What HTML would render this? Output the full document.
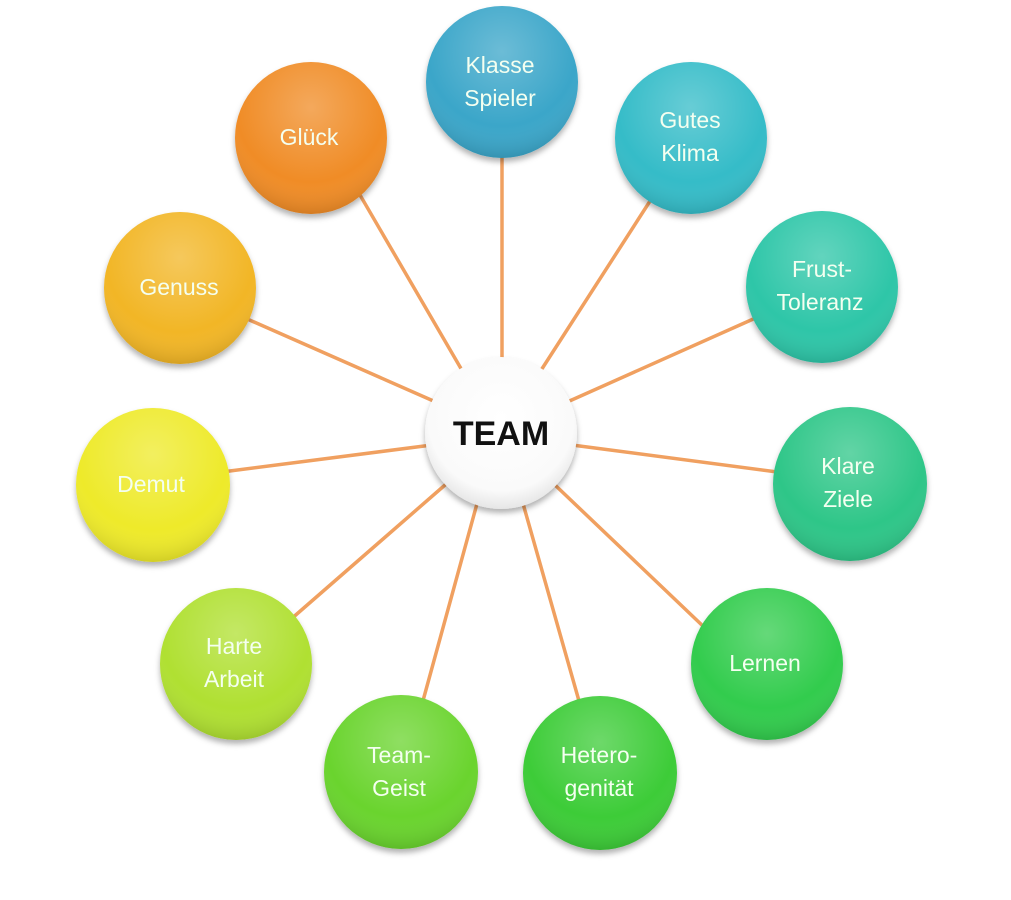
<!DOCTYPE html>
<html><head><meta charset="utf-8"><style>
html,body{margin:0;padding:0;background:#fff;}
svg{display:block;}
text{font-family:"Liberation Sans",sans-serif;}
</style></head><body>
<svg width="1011" height="900" viewBox="0 0 1011 900" xmlns="http://www.w3.org/2000/svg">
<defs>
<radialGradient id="gl" cx="50%" cy="30%" r="70%">
<stop offset="0" stop-color="#fff" stop-opacity="0.25"/>
<stop offset="0.7" stop-color="#fff" stop-opacity="0"/>
<stop offset="1" stop-color="#000" stop-opacity="0.12"/>
</radialGradient>
<radialGradient id="wh" cx="50%" cy="40%" r="60%">
<stop offset="0" stop-color="#fff"/>
<stop offset="0.8" stop-color="#fafafa"/>
<stop offset="1" stop-color="#e6e6e6"/>
</radialGradient>
<filter id="sh" x="-20%" y="-20%" width="140%" height="150%">
<feDropShadow dx="0" dy="4" stdDeviation="3" flood-color="#000" flood-opacity="0.3"/>
</filter>
</defs>
<g stroke="#f0a060" stroke-width="3.5" stroke-linecap="round">
<line x1="502" y1="150" x2="502" y2="365"/>
<line x1="652" y1="198" x2="538" y2="375"/>
<line x1="760" y1="316" x2="565" y2="403"/>
<line x1="785" y1="473" x2="572" y2="445"/>
<line x1="705" y1="628" x2="555" y2="485"/>
<line x1="581" y1="708" x2="522" y2="500"/>
<line x1="421" y1="708" x2="478" y2="500"/>
<line x1="290" y1="620" x2="445" y2="485"/>
<line x1="222" y1="472" x2="432" y2="445"/>
<line x1="245" y1="318" x2="438" y2="403"/>
<line x1="360" y1="195" x2="463" y2="372"/>
</g>
<g filter="url(#sh)">
<circle cx="501" cy="433" r="76" fill="url(#wh)"/>
<circle cx="502" cy="82" r="76" fill="#3aa6c9"/>
<circle cx="691" cy="138" r="76" fill="#35bcc8"/>
<circle cx="822" cy="287" r="76" fill="#2ec6a8"/>
<circle cx="850" cy="484" r="77" fill="#2ec688"/>
<circle cx="767" cy="664" r="76" fill="#30cc4e"/>
<circle cx="600" cy="773" r="77" fill="#3ccc38"/>
<circle cx="401" cy="772" r="77" fill="#6ad42e"/>
<circle cx="236" cy="664" r="76" fill="#b0e030"/>
<circle cx="153" cy="485" r="77" fill="#eeea2a"/>
<circle cx="180" cy="288" r="76" fill="#f2b626"/>
<circle cx="311" cy="138" r="76" fill="#f08c28"/>
</g>
<g fill="url(#gl)">
<circle cx="502" cy="82" r="76"/><circle cx="691" cy="138" r="76"/><circle cx="822" cy="287" r="76"/>
<circle cx="850" cy="484" r="77"/><circle cx="767" cy="664" r="76"/><circle cx="600" cy="773" r="77"/>
<circle cx="401" cy="772" r="77"/><circle cx="236" cy="664" r="76"/><circle cx="153" cy="485" r="77"/>
<circle cx="180" cy="288" r="76"/><circle cx="311" cy="138" r="76"/>
</g>
<text x="501" y="445" font-size="34" font-weight="bold" text-anchor="middle" fill="#111">TEAM</text>
<g fill="#f4fff0" font-size="23" text-anchor="middle">
<text x="500" y="73">Klasse</text><text x="500" y="106">Spieler</text>
<text x="690" y="128">Gutes</text><text x="690" y="161">Klima</text>
<text x="822" y="277">Frust-</text><text x="820" y="310">Toleranz</text>
<text x="848" y="474">Klare</text><text x="848" y="507">Ziele</text>
<text x="765" y="671">Lernen</text>
<text x="599" y="763">Hetero-</text><text x="599" y="796">genität</text>
<text x="399" y="763">Team-</text><text x="399" y="796">Geist</text>
<text x="234" y="654">Harte</text><text x="234" y="687">Arbeit</text>
<text x="151" y="492">Demut</text>
<text x="179" y="295">Genuss</text>
<text x="309" y="145">Glück</text>
</g>
</svg>
</body></html>
